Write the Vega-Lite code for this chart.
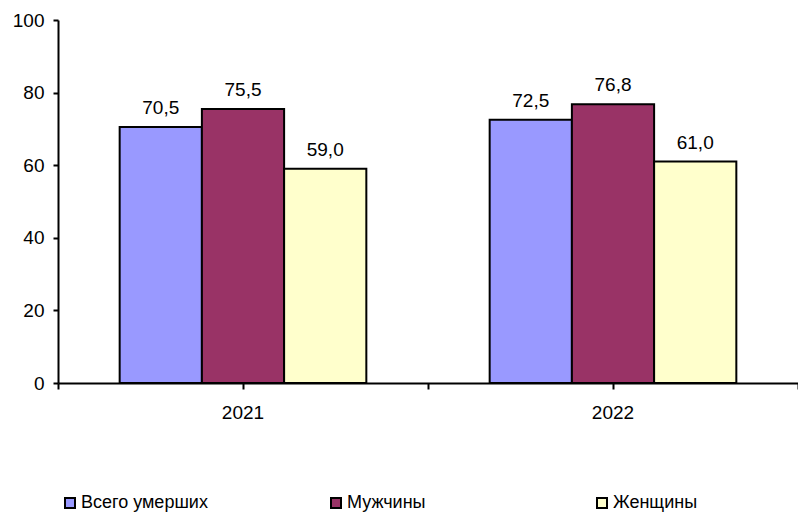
{
  "$schema": "https://vega.github.io/schema/vega-lite/v6.json",
  "width": 740,
  "height": 363,
  "autosize": {"type": "none"},
  "padding": {"left": 58, "top": 20, "right": 0, "bottom": 132},
  "background": "white",
  "config": {
    "font": "Liberation Sans",
    "view": {"stroke": null},
    "locale": {"number": {"decimal": ",", "thousands": " ", "grouping": [3], "currency": ["", ""]}}
  },
  "data": {
    "values": [
      {"year": "2021", "group": "Всего умерших", "value": 70.5},
      {"year": "2021", "group": "Мужчины", "value": 75.5},
      {"year": "2021", "group": "Женщины", "value": 59.0},
      {"year": "2022", "group": "Всего умерших", "value": 72.5},
      {"year": "2022", "group": "Мужчины", "value": 76.8},
      {"year": "2022", "group": "Женщины", "value": 61.0}
    ]
  },
  "encoding": {
    "x": {"field": "year", "type": "nominal", "scale": {"paddingInner": 0, "paddingOuter": 0}},
    "xOffset": {"field": "group", "type": "nominal", "sort": ["Всего умерших", "Мужчины", "Женщины"], "scale": {"paddingInner": 0, "paddingOuter": 0.75}},
    "y": {"field": "value", "type": "quantitative", "scale": {"domain": [0, 100]},
      "axis": {"values": [0, 20, 40, 60, 80, 100], "grid": false, "title": null, "tickSize": 5, "tickColor": "black", "tickWidth": 2, "domainColor": "black", "domainWidth": 2, "labelFontSize": 19, "labelColor": "black", "labelPadding": 9}}
  },
  "layer": [
    {
      "mark": {"type": "bar", "stroke": "black", "strokeWidth": 2},
      "encoding": {
        "x": {"field": "year", "type": "nominal", "axis": {"orient": "bottom", "title": null, "labelAngle": 0, "labelFontSize": 19, "labelColor": "black", "labelPadding": 14, "tickSize": 6, "tickWidth": 2, "tickColor": "black", "domainColor": "black", "domainWidth": 2}},
        "color": {"field": "group", "type": "nominal", "sort": ["Всего умерших", "Мужчины", "Женщины"],
          "scale": {"domain": ["Всего умерших", "Мужчины", "Женщины"], "range": ["#9999FF", "#993366", "#FFFFCC"]},
          "legend": {"title": null, "orient": "none", "direction": "horizontal", "columns": 3, "legendX": 3, "legendY": 474, "gridAlign": "all", "columnPadding": 119, "symbolType": "square", "symbolSize": 100, "symbolStrokeColor": "black", "symbolStrokeWidth": 2, "symbolOpacity": 1, "labelFontSize": 18, "labelColor": "black", "labelOffset": 2}}
      }
    },
    {
      "mark": {"type": "text", "baseline": "bottom", "dy": -9, "fontSize": 19, "color": "black"},
      "encoding": {
        "x": {"field": "year", "type": "nominal", "axis": {"orient": "bottom", "title": null, "labels": false, "domain": false, "tickBand": "extent", "tickSize": 6, "tickWidth": 2, "tickColor": "black"}},
        "text": {"field": "value", "type": "quantitative", "format": ".1f"}
      }
    }
  ],
  "resolve": {"axis": {"x": "independent"}}
}
